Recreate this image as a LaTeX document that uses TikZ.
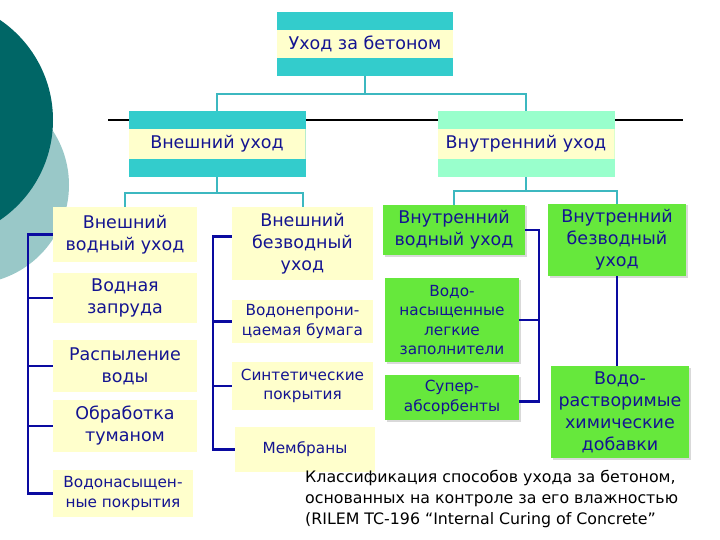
\documentclass[tikz,border=0pt]{standalone}
\usepackage{fontspec}
\setmainfont{DejaVu Sans}
\usetikzlibrary{shadows}
\definecolor{darkteal}{RGB}{0,102,102}
\definecolor{lightteal}{RGB}{153,200,200}
\definecolor{tealband}{RGB}{51,204,204}
\definecolor{mintband}{RGB}{153,255,204}
\definecolor{paleyellow}{RGB}{255,255,204}
\definecolor{boxgreen}{RGB}{102,232,60}
\definecolor{navytext}{RGB}{20,20,145}
\definecolor{connteal}{RGB}{60,184,192}
\definecolor{bracketblue}{RGB}{10,10,160}
\newcommand{\bigf}{\fontsize{17.5}{22}\selectfont}
\newcommand{\smallf}{\fontsize{15.3}{19.5}\selectfont}
\begin{document}
\begin{tikzpicture}[x=1pt,y=-1pt,
  bandbox/.style={minimum width=177pt,minimum height=66pt,inner sep=0pt,
    text=navytext,font=\bigf,
    path picture={\fill[paleyellow] ([yshift=15pt]path picture bounding box.west) rectangle ([yshift=-15pt]path picture bounding box.east);}},
  ybox/.style={fill=paleyellow,inner sep=0pt,text=navytext,align=center},
  gbox/.style={fill=boxgreen,inner sep=0pt,text=navytext,align=center,
    general shadow={fill=black,opacity=0.15,shadow xshift=1.5pt,shadow yshift=-1.5pt}},
  tconn/.style={draw=connteal,line width=2pt},
  bconn/.style={draw=bracketblue,line width=2.5pt}]
\useasboundingbox (0,0) rectangle (720,540);
% background circles
\fill[lightteal] (-30,185) circle (99);
\fill[darkteal] (-68,120) circle (121);
% black rule
\draw[black,line width=1.2pt] (108,120) -- (683,120);
% top level
\node[bandbox,fill=tealband,minimum width=176pt,minimum height=64pt,
  path picture={\fill[paleyellow] ([yshift=14pt]path picture bounding box.west) rectangle ([yshift=-14pt]path picture bounding box.east);}]
  (top) at (365,44) {Уход за бетоном};
\node[bandbox,fill=tealband] (ext) at (217,144) {Внешний уход};
\node[bandbox,fill=mintband] (int) at (526,144) {Внутренний уход};
% left column
\node[ybox,minimum width=144pt,minimum height=55pt,font=\bigf] (ew) at (125,234.5) {Внешний\\водный уход};
\node[ybox,minimum width=144pt,minimum height=50pt,font=\bigf] (dam) at (125,298) {Водная\\запруда};
\node[ybox,minimum width=144pt,minimum height=52pt,font=\bigf] (spray) at (125,366) {Распыление\\воды};
\node[ybox,minimum width=144pt,minimum height=52pt,font=\bigf] (fog) at (125,426) {Обработка\\туманом};
\node[ybox,minimum width=140pt,minimum height=47pt,font=\smallf] (coat) at (123,493.5) {Водонасыщен-\\ные покрытия};
% middle column
\node[ybox,minimum width=141pt,minimum height=73pt,font=\bigf] (ed) at (302.5,243.5) {Внешний\\безводный\\уход};
\node[ybox,minimum width=141pt,minimum height=43pt,font=\smallf] (paper) at (302.5,321.5) {Водонепрони-\\цаемая бумага};
\node[ybox,minimum width=141pt,minimum height=48pt,font=\smallf] (synth) at (302.5,386) {Синтетические\\покрытия};
\node[ybox,minimum width=140pt,minimum height=45pt,font=\smallf] (memb) at (305,449.5) {Мембраны};
% green column
\node[gbox,minimum width=142pt,minimum height=50pt,font=\bigf] (iw) at (454,230) {Внутренний\\водный уход};
\node[gbox,minimum width=134pt,minimum height=84pt,font=\smallf] (agg) at (452,320) {Водо-\\насыщенные\\легкие\\заполнители};
\node[gbox,minimum width=134pt,minimum height=45pt,font=\smallf] (sap) at (452,397.5) {Супер-\\абсорбенты};
% right column
\node[gbox,minimum width=138pt,minimum height=72pt,font=\bigf] (idry) at (617,240) {Внутренний\\безводный\\уход};
\node[gbox,minimum width=138pt,minimum height=92pt,font=\bigf] (chem) at (620,412) {Водо-\\растворимые\\химические\\добавки};
% teal connectors
\draw[tconn] (top.south) -- ++(0,18) -| (ext.north);
\draw[tconn] (top.south) -- ++(0,18) -| (int.north);
\draw[tconn] (ext.south) -- ++(0,16) -| (ew.north);
\draw[tconn] (ext.south) -- ++(0,16) -| (ed.north);
\draw[tconn] (int.south) -- ++(0,14) -| (iw.north);
\draw[tconn] (int.south) -- ++(0,14) -| (idry.north);
% left bracket
\coordinate (lb) at (28,0);
\draw[bconn] (ew.west) -- (ew.west -| lb) -- (coat.west -| lb) -- (coat.west);
\draw[bconn] (dam.west) -- (dam.west -| lb);
\draw[bconn] (spray.west) -- (spray.west -| lb);
\draw[bconn] (fog.west) -- (fog.west -| lb);
% middle bracket
\coordinate (mb) at (213,0);
\draw[bconn] ([yshift=7pt]ed.west) -- ([yshift=7pt]ed.west -| mb) -- (memb.west -| mb) -- (memb.west);
\draw[bconn] (paper.west) -- (paper.west -| mb);
\draw[bconn] (synth.west) -- (synth.west -| mb);
% green bracket
\coordinate (gb) at (539,0);
\draw[bconn] (iw.east) -- (iw.east -| gb) -- ([yshift=-4pt]sap.east -| gb) -- ([yshift=-4pt]sap.east);
\draw[bconn] (agg.east) -- (agg.east -| gb);
% right connector
\draw[bconn] (idry.south) -- (idry.south |- chem.north);
% caption
\node[anchor=north west,inner sep=0pt,align=left,font=\fontsize{15.8}{21}\selectfont,text=black] (cap) at (305,470)
  {Классификация способов ухода за бетоном,\\основанных на контроле за его влажностью\\(RILEM TC-196 “Internal Curing of Concrete”};
\end{tikzpicture}
\end{document}
